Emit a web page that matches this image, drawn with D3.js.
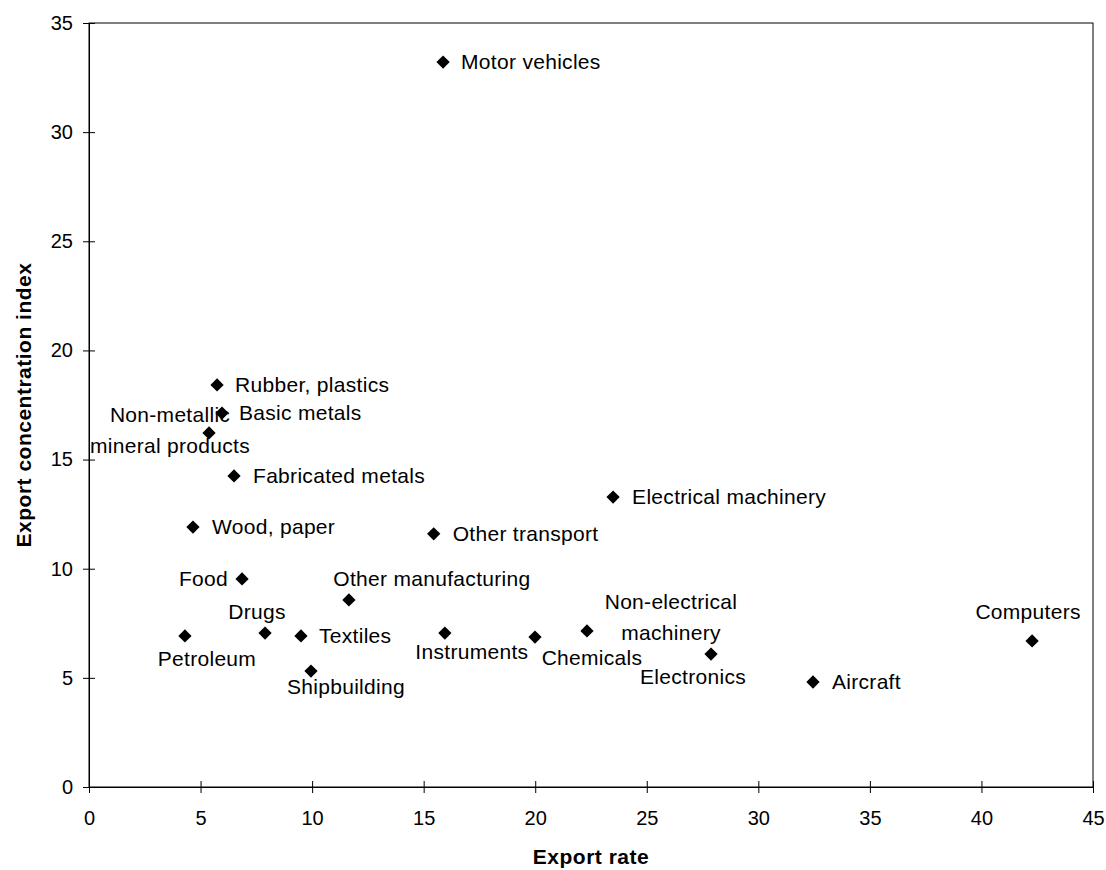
<!DOCTYPE html>
<html>
<head>
<meta charset="utf-8">
<script src="https://cdn.jsdelivr.net/npm/d3@7"></script>
<style>
  body { margin: 0; background: #fff; }
  text { font-family: "Liberation Sans", Arial, sans-serif; fill: #000; }
  .axis path, .axis line { stroke: #000; stroke-width: 1; }
  .axis text { font-size: 20px; }
  .lbl { font-size: 21px; letter-spacing: 0.3px; }
  .title { font-size: 21px; font-weight: bold; letter-spacing: 0.5px; }
</style>
</head>
<body>
<svg id="chart" width="1106" height="870"></svg>
<script>
// industries (label lines), export rate, export concentration index
var industries = [
  ["Motor vehicles"], ["Rubber, plastics"], ["Basic metals"], ["Non-metallic", "mineral products"],
  ["Fabricated metals"], ["Wood, paper"], ["Food"], ["Other manufacturing"],
  ["Petroleum"], ["Drugs"], ["Textiles"], ["Shipbuilding"],
  ["Instruments"], ["Chemicals"], ["Non-electrical", "machinery"], ["Electronics"],
  ["Aircraft"], ["Computers"], ["Electrical machinery"], ["Other transport"]
]
var exportRate = [15.87, 5.74, 5.96, 5.38, 6.50, 4.66, 6.86, 11.65, 4.30, 7.89, 9.50, 9.95,
                  15.95, 19.99, 22.32, 27.88, 32.45, 42.27, 23.49, 15.45]
var concIndex  = [33.21, 18.42, 17.13, 16.22, 14.25, 11.91, 9.53, 8.57, 6.92, 7.05, 6.92, 5.31,
                  7.05, 6.87, 7.15, 6.09, 4.81, 6.69, 13.28, 11.6]
var xTicks = [0, 5, 10, 15, 20, 25, 30, 35, 40, 45]
var yTicks = [0, 5, 10, 15, 20, 25, 30, 35]

// label placement relative to the marker: [anchor, dx, dy of first line]
var labelPos = [
  ["start", 18, 0], ["start", 18, 0], ["start", 17, 0], ["middle", -39, -18],
  ["start", 19, 0], ["start", 19, 0], ["end", -14, 0], ["middle", 83, -21],
  ["middle", 22, 23], ["middle", -8, -21], ["start", 18, 0], ["middle", 35, 16],
  ["middle", 27, 19], ["middle", 57, 21], ["middle", 84, -29], ["middle", -18, 23],
  ["start", 19, 0], ["middle", -4, -29], ["start", 19, 0], ["start", 19, 0]
]

var svg = d3.select("#chart"),
    margin = {top: 23, right: 13, bottom: 83, left: 89},
    width  = +svg.attr("width")  - margin.left - margin.right,
    height = +svg.attr("height") - margin.top  - margin.bottom;

var x = d3.scaleLinear().domain([0, 45]).range([0, width]);
var y = d3.scaleLinear().domain([0, 35]).range([height, 0]);

var g = svg.append("g")
  .attr("transform", "translate(" + margin.left + "," + margin.top + ")");

// plot frame
g.append("rect")
  .attr("width", width).attr("height", height)
  .attr("fill", "none").attr("stroke", "#000").attr("stroke-width", 1);

var xAxis = g.append("g")
  .attr("class", "axis")
  .attr("transform", "translate(0," + height + ")")
  .call(d3.axisBottom(x).tickValues(xTicks).tickFormat(d3.format("d")).tickSizeOuter(0).tickPadding(0));
xAxis.selectAll(".tick line").attr("y1", -6).attr("y2", 6);
xAxis.selectAll(".tick text").attr("y", 31).attr("dy", "0.35em");

var yAxis = g.append("g")
  .attr("class", "axis")
  .call(d3.axisLeft(y).tickValues(yTicks).tickFormat(d3.format("d")).tickSizeOuter(0).tickPadding(0));
yAxis.selectAll(".tick line").attr("x1", -6).attr("x2", 6);
yAxis.selectAll(".tick text").attr("x", -16);

// markers
var diamond = d3.symbol().type(d3.symbolSquare).size(88);
g.selectAll(".pt")
  .data(exportRate)
  .enter().append("path")
  .attr("class", "pt")
  .attr("d", diamond)
  .attr("fill", "#000")
  .attr("transform", function(d, i) {
    return "translate(" + x(d) + "," + y(concIndex[i]) + ") rotate(45)";
  });

// labels
industries.forEach(function(lines, i) {
  var p = labelPos[i];
  var t = g.append("text")
    .attr("class", "lbl")
    .attr("text-anchor", p[0])
    .attr("x", x(exportRate[i]) + p[1])
    .attr("y", y(concIndex[i]) + p[2]);
  lines.forEach(function(s, k) {
    t.append("tspan")
      .attr("x", x(exportRate[i]) + p[1])
      .attr("dy", k == 0 ? "0.35em" : 31)
      .text(s);
  });
});

// axis titles
svg.append("text")
  .attr("class", "title")
  .attr("text-anchor", "middle")
  .attr("x", margin.left + width / 2)
  .attr("y", 864)
  .text("Export rate");

svg.append("text")
  .attr("class", "title")
  .attr("text-anchor", "middle")
  .attr("transform", "translate(31," + (margin.top + height / 2) + ") rotate(-90)")
  .text("Export concentration index");
</script>
</body>
</html>
